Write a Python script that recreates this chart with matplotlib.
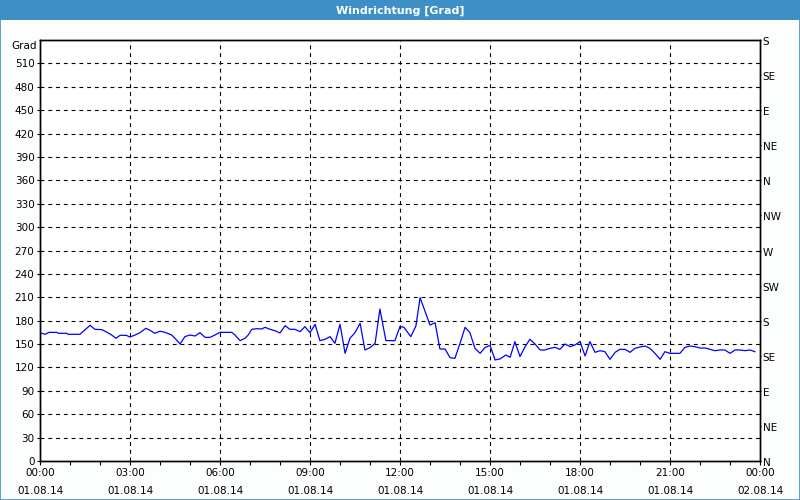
import matplotlib
matplotlib.use("Agg")
import matplotlib.pyplot as plt
import matplotlib.transforms as mtransforms
from matplotlib.patches import Rectangle
from matplotlib.ticker import MultipleLocator

# ---- data (hours since 01.08.14 00:00, wind direction in degrees) ----
hours = [0.0, 0.17, 0.3, 0.56, 0.61, 0.89, 0.94, 1.33, 1.67, 1.83, 2.06, 2.22, 2.39, 2.53, 2.67, 2.87,
         3.0, 3.17, 3.33, 3.53, 3.67, 3.83, 4.0, 4.17, 4.39, 4.53, 4.67, 4.83, 5.0, 5.17, 5.33, 5.5,
         5.67, 5.83, 6.0, 6.39, 6.5, 6.67, 6.83, 6.94, 7.06, 7.22, 7.39, 7.5, 7.67, 7.83, 8.0, 8.17,
         8.33, 8.5, 8.67, 8.83, 9.0, 9.17, 9.33, 9.5, 9.67, 9.83, 10.0, 10.17, 10.33, 10.5, 10.67,
         10.83, 11.0, 11.17, 11.33, 11.53, 11.83, 12.0, 12.13, 12.36, 12.53, 12.67, 12.83, 13.0,
         13.17, 13.33, 13.5, 13.67, 13.83, 14.0, 14.17, 14.33, 14.5, 14.67, 14.83, 15.0, 15.17,
         15.33, 15.53, 15.67, 15.83, 16.0, 16.17, 16.33, 16.5, 16.67, 16.83, 17.0, 17.17, 17.33,
         17.5, 17.67, 17.83, 18.0, 18.17, 18.33, 18.5, 18.67, 18.83, 19.0, 19.17, 19.33, 19.5,
         19.67, 19.83, 20.0, 20.17, 20.33, 20.5, 20.67, 20.83, 21.0, 21.17, 21.33, 21.5, 21.67,
         21.83, 22.0, 22.17, 22.33, 22.5, 22.67, 22.83, 23.0, 23.17, 23.33, 23.5, 23.67, 23.83]
direction = [164.6, 162.5, 165.0, 165.0, 163.8, 163.8, 162.5, 162.5, 174.0, 168.9, 168.5, 165.5,
             161.6, 157.4, 161.2, 161.2, 159.1, 161.6, 164.6, 170.2, 167.6, 163.8, 166.5, 165.0,
             161.6, 156.1, 150.1, 159.5, 161.6, 160.3, 164.6, 158.6, 158.6, 161.6, 165.0, 165.0,
             161.6, 154.4, 157.3, 161.6, 168.9, 169.7, 169.3, 171.5, 168.9, 167.2, 164.2, 173.6,
             168.9, 168.9, 165.9, 172.3, 164.6, 175.3, 154.4, 156.1, 159.5, 150.9, 175.3, 138.1,
             157.3, 164.6, 176.6, 142.4, 145.4, 150.9, 195.0, 154.4, 154.4, 172.5, 171.5, 159.5,
             173.2, 209.5, 192.4, 174.4, 177.4, 143.7, 143.7, 132.5, 131.7, 150.9, 171.5, 164.6,
             144.5, 138.1, 145.4, 148.4, 129.6, 130.8, 136.0, 133.0, 153.1, 134.0, 146.7, 156.1,
             150.1, 142.4, 142.4, 144.5, 145.8, 143.2, 150.1, 146.7, 148.8, 153.1, 134.7, 153.1,
             139.4, 141.5, 140.2, 130.4, 139.4, 143.2, 143.2, 139.4, 144.5, 146.2, 147.5, 144.5,
             138.1, 130.4, 140.2, 138.1, 138.1, 138.1, 145.8, 147.5, 146.7, 144.9, 144.9, 143.2,
             141.5, 142.4, 142.4, 138.1, 142.4, 142.4, 141.5, 142.4, 140.2]

x_ticks = [0, 3, 6, 9, 12, 15, 18, 21, 24]
x_labels = ["00:00\n01.08.14", "03:00\n01.08.14", "06:00\n01.08.14", "09:00\n01.08.14",
            "12:00\n01.08.14", "15:00\n01.08.14", "18:00\n01.08.14", "21:00\n01.08.14",
            "00:00\n02.08.14"]
left_ticks = list(range(0, 511, 30))
right_ticks = list(range(0, 541, 45))
right_labels = ["N", "NE", "E", "SE", "S", "SW", "W", "NW", "N", "NE", "E", "SE", "S"]
title = "Windrichtung [Grad]"
y_unit = "Grad"

# ---- figure ----
fig = plt.figure(figsize=(8, 5), dpi=100)
fig.patch.set_facecolor("#fcfefd")
bar_col = "#3d8fc6"
fig.patches.append(Rectangle((0, 0.96), 1, 0.04, transform=fig.transFigure,
                             facecolor=bar_col, edgecolor="none", zorder=0))
fig.patches.append(Rectangle((0.0006, 0.001), 0.9988, 0.998, transform=fig.transFigure,
                             facecolor="none", edgecolor=bar_col, linewidth=1.2, zorder=5))
fig.text(0.5, 0.979, title, color="white", fontsize=8, fontweight="bold",
         ha="center", va="center", family="DejaVu Sans")

ax = fig.add_axes([0.05, 0.078, 0.90, 0.842])
ax.set_facecolor("white")
ax.plot(hours, direction, color="#0000ff", linewidth=0.9, zorder=3)

ax.set_xlim(0, 24)
ax.set_ylim(0, 540)

ax.set_xticks(x_ticks)
ax.set_xticklabels(x_labels, fontsize=7.5, linespacing=1.95)
ax.xaxis.set_minor_locator(MultipleLocator(1))
ax.tick_params(axis="x", which="both", direction="out", length=3, width=0.8, pad=2)

ax.set_yticks(left_ticks)
ax.set_yticklabels([str(v) for v in left_ticks], fontsize=7.5)
ax.tick_params(axis="y", which="both", direction="out", length=2, width=0.8, pad=2)

for v in range(30, 540, 30):
    ax.axhline(v, color="black", linewidth=0.8, linestyle=(0, (3.5, 3.5)), zorder=1)
for h in x_ticks[1:-1]:
    ax.axvline(h, color="black", linewidth=0.8, linestyle=(0, (3.5, 3.5)), zorder=1)

ax2 = ax.twinx()
ax2.set_ylim(0, 540)
ax2.set_yticks(right_ticks)
ax2.set_yticklabels(right_labels, fontsize=7.5)
ax2.tick_params(axis="y", direction="out", length=1, width=0.8, pad=1)
shift = mtransforms.ScaledTranslation(0, -0.01, fig.dpi_scale_trans)
for lbl in ax2.get_yticklabels():
    lbl.set_transform(lbl.get_transform() + shift)

for a in (ax, ax2):
    for s in a.spines.values():
        s.set_color("black")
        s.set_linewidth(1.0)

ax.text(-0.004, 532, y_unit, transform=ax.get_yaxis_transform(), fontsize=7.5,
        ha="right", va="center")

fig.savefig("out.png", dpi=100, facecolor=fig.get_facecolor())
